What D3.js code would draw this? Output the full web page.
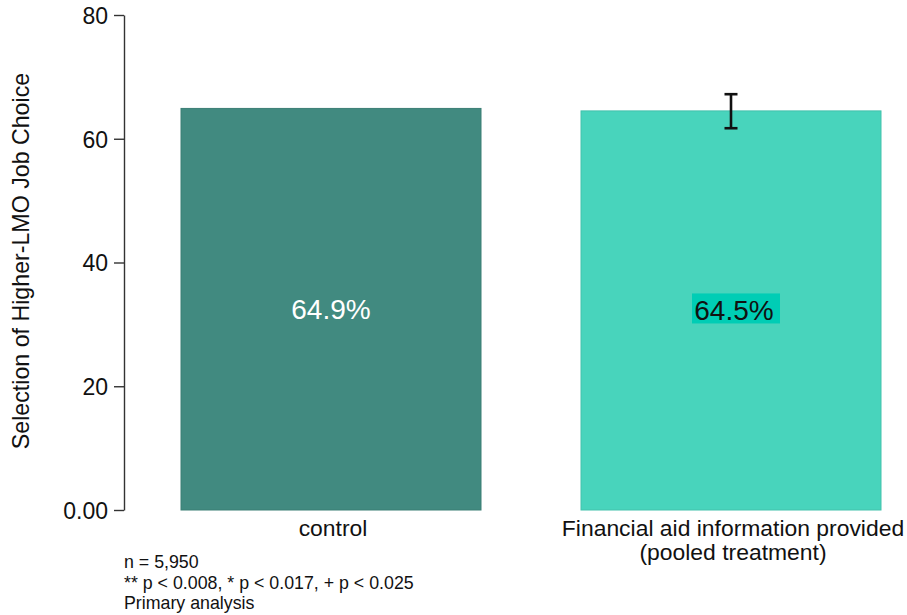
<!DOCTYPE html>
<html>
<head>
<meta charset="utf-8">
<script src="https://cdn.jsdelivr.net/npm/d3@7"></script>
<style>
  html, body { margin: 0; padding: 0; background: #ffffff; }
  svg { display: block; font-family: "Liberation Sans", Arial, Helvetica, sans-serif; }
</style>
</head>
<body>
<svg id="chart" width="907" height="615"></svg>
<script>
// Share of students selecting the higher-LMO job, by arm
const categories = ["control", "Financial aid information provided\n(pooled treatment)"];
const values = [64.9, 64.5];
const barLabels = ["64.9%", "64.5%"];
const errLow = [null, 61.7];
const errHigh = [null, 67.2];
const yTicks = [0, 20, 40, 60, 80];
const yTickLabels = ["0.00", "20", "40", "60", "80"];
const notes = ["n = 5,950", "** p < 0.008, * p < 0.017, + p < 0.025", "Primary analysis"];
const barColors = ["#418a80", "#48d4bc"];

const svg = d3.select("#chart");

const x = d3.scaleBand()
  .domain(categories)
  .range([131, 931])
  .paddingInner(0.25)
  .paddingOuter(0.125);

const y = d3.scaleLinear().domain([0, 80]).range([510, 15]);

// y axis
const yAxis = d3.axisLeft(y)
  .tickValues(yTicks)
  .tickFormat((d, i) => yTickLabels[i])
  .tickSize(10)
  .tickPadding(6)
  .tickSizeOuter(0);

const gy = svg.append("g").attr("transform", "translate(124,0)").call(yAxis);
gy.select(".domain").attr("stroke", "#333").attr("stroke-width", 1.4);
gy.selectAll(".tick line").attr("stroke", "#333").attr("stroke-width", 1.4);
gy.selectAll(".tick text")
  .attr("fill", "#111")
  .attr("dy", "0.36em")
  .style("font-size", "23px")
  .style("font-family", "'Liberation Sans', Arial, sans-serif");

// y axis title
svg.append("text")
  .attr("transform", "translate(29,261) rotate(-90)")
  .attr("text-anchor", "middle")
  .attr("fill", "#111")
  .style("font-size", "23.2px")
  .text("Selection of Higher-LMO Job Choice");

// bars
svg.selectAll("rect.bar")
  .data(categories)
  .enter().append("rect")
  .attr("class", "bar")
  .attr("x", d => x(d))
  .attr("width", x.bandwidth())
  .attr("y", (d, i) => y(values[i]))
  .attr("height", (d, i) => y(0) - y(values[i]))
  .attr("fill", (d, i) => barColors[i])
  .attr("stroke", (d, i) => d3.color(barColors[i]).darker(0.25))
  .attr("stroke-width", 1);

// error bar on the treatment arm
const eg = svg.append("g");
categories.forEach((c, i) => {
  if (errLow[i] == null) return;
  const cx = x(c) + x.bandwidth() / 2;
  eg.append("line")
    .attr("x1", cx).attr("x2", cx)
    .attr("y1", y(errHigh[i])).attr("y2", y(errLow[i]))
    .attr("stroke", "#111").attr("stroke-width", 2.6);
  [errHigh[i], errLow[i]].forEach(v => {
    eg.append("line")
      .attr("x1", cx - 6.5).attr("x2", cx + 6.5)
      .attr("y1", y(v)).attr("y2", y(v))
      .attr("stroke", "#111").attr("stroke-width", 2.6);
  });
});

// value labels at the middle of each bar
categories.forEach((c, i) => {
  const cx = x(c) + x.bandwidth() / 2;
  const baseY = y(values[i] / 2) + 10;
  if (i === 1) {
    svg.append("rect")
      .attr("x", cx - 39).attr("y", baseY - 27)
      .attr("width", 88).attr("height", 30)
      .attr("fill", "#00cdb5");
  }
  svg.append("text")
    .attr("x", i === 1 ? cx + 3 : cx)
    .attr("y", baseY)
    .attr("text-anchor", "middle")
    .attr("fill", i === 0 ? "#ffffff" : "#111111")
    .style("font-size", "28px")
    .text(barLabels[i]);
});

// category labels
categories.forEach(c => {
  const cx = x(c) + x.bandwidth() / 2 + 2;
  const t = svg.append("text")
    .attr("y", 536)
    .attr("text-anchor", "middle")
    .attr("fill", "#111")
    .style("font-size", "22.9px");
  c.split("\n").forEach((l, j) => {
    t.append("tspan")
      .attr("x", cx)
      .attr("dy", j === 0 ? 0 : 24)
      .text(l);
  });
});

// footnotes
svg.selectAll("text.note")
  .data(notes)
  .enter().append("text")
  .attr("class", "note")
  .attr("x", 124)
  .attr("y", (d, i) => 568 + i * 20.5)
  .attr("fill", "#111")
  .style("font-size", "17.8px")
  .text(d => d);
</script>
</body>
</html>
